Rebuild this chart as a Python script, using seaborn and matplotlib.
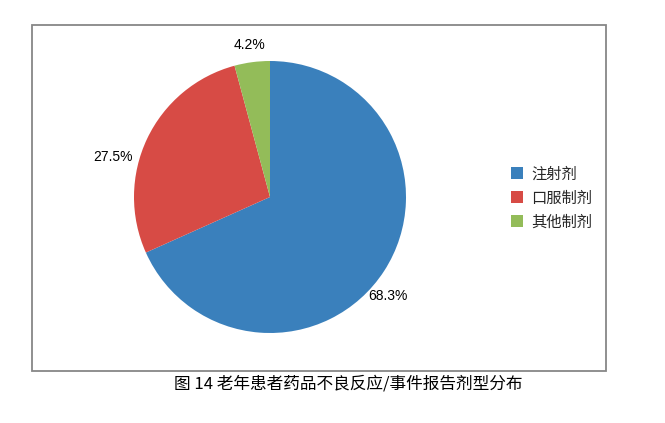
import matplotlib
matplotlib.use("Agg")
import matplotlib.pyplot as plt
import numpy as np
import seaborn as sns
from matplotlib.patches import Rectangle

sns.set_theme(style="white")
plt.rcParams['font.family'] = ['Noto Sans CJK SC', 'DejaVu Sans']

# data
categories = ['注射剂', '口服制剂', '其他制剂']
shares = [68.3, 27.5, 4.2]
colors = ['#3A80BC', '#D74B45', '#93BC59']
caption = '图 14 老年患者药品不良反应/事件报告剂型分布'

# label placement tweaks (Excel "best fit" style)
label_shift_deg = [-7, 11, 0]
label_dist = [1.13, 1.19, 1.13]

W, H = 665, 423
fig = plt.figure(figsize=(W / 100, H / 100), dpi=100)

# outer chart frame
fig.patches.append(Rectangle((32 / W, 1 - 371 / H), (606 - 32) / W, (371 - 25) / H,
                             transform=fig.transFigure, fill=False,
                             edgecolor='#878787', linewidth=1.3))

# pie axes: centre (270, 197), radius 136 px
cx, cy, r = 270, 197, 136
ax = fig.add_axes([(cx - r) / W, 1 - (cy + r) / H, 2 * r / W, 2 * r / H])
wedges, _ = ax.pie(shares, colors=colors, startangle=90, counterclock=False,
                   wedgeprops=dict(linewidth=0))
ax.set_xlim(-1, 1)
ax.set_ylim(-1, 1)
ax.set_aspect('equal')
ax.axis('off')

for w, v, shift, dist in zip(wedges, shares, label_shift_deg, label_dist):
    mid = np.deg2rad((w.theta1 + w.theta2) / 2 + shift)
    ax.text(dist * np.cos(mid), dist * np.sin(mid), f'{v}%',
            ha='center', va='center', fontsize=10, color='black',
            family=['Liberation Sans', 'DejaVu Sans'])

leg = fig.legend(wedges, categories, loc='center left',
                 bbox_to_anchor=(505 / W, 1 - 198 / H), frameon=False,
                 fontsize=11, handlelength=0.8, handleheight=0.8,
                 handletextpad=0.5, labelspacing=0.45, borderaxespad=0)

fig.text(348 / W, 1 - 384 / H, caption, ha='center', va='center',
         fontsize=12, color='black')

fig.savefig('out.png', dpi=100)
